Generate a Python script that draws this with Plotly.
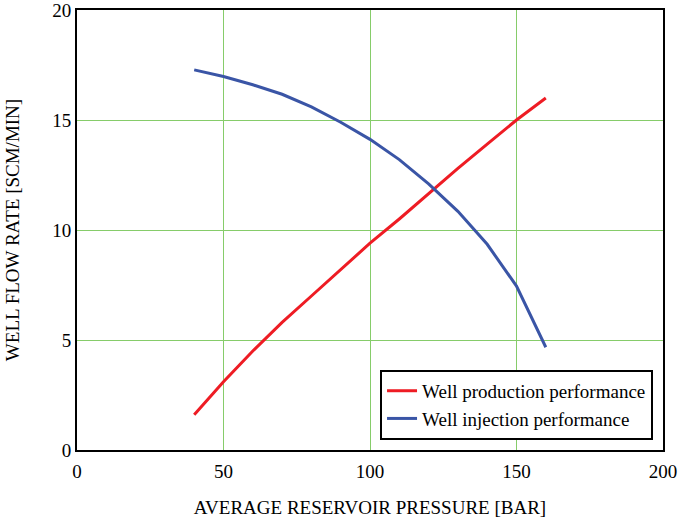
import plotly.graph_objects as go

pressure = [40, 50, 60, 70, 80, 90, 100, 110, 120, 130, 140, 150, 160]
production = [1.6, 3.1, 4.5, 5.8, 7.0, 8.2, 9.4, 10.5, 11.65, 12.8, 13.9, 15.0, 16.0]
injection = [17.28, 16.98, 16.6, 16.17, 15.6, 14.9, 14.12, 13.2, 12.1, 10.85, 9.35, 7.45, 4.67]
x_ticks = [0, 50, 100, 150, 200]
y_ticks = [0, 5, 10, 15, 20]

font_family = "Liberation Serif, Times New Roman, serif"

fig = go.Figure()
fig.add_trace(go.Scatter(x=pressure, y=production, mode="lines",
                         name="Well production performance",
                         line=dict(color="#ee1c24", width=3)))
fig.add_trace(go.Scatter(x=pressure, y=injection, mode="lines",
                         name="Well injection performance",
                         line=dict(color="#3a55a6", width=3)))

title_font = dict(family=font_family, size=19, color="black")
tick_font = dict(family=font_family, size=19, color="black")

fig.update_layout(
    width=682, height=521,
    margin=dict(l=77, r=19, t=10, b=71, autoexpand=False),
    paper_bgcolor="white", plot_bgcolor="white",
    font=dict(family=font_family, size=19, color="black"),
    legend=dict(x=0.983, y=0.023, xanchor="right", yanchor="bottom",
                bordercolor="black", borderwidth=2, bgcolor="white",
                font=dict(family=font_family, size=19, color="black"),
                tracegroupgap=0, itemwidth=30),
    showlegend=True,
)
fig.update_xaxes(range=[0, 200], tickvals=x_ticks, ticktext=[str(v) for v in x_ticks],
                 tickfont=tick_font, automargin=False, ticklabeloverflow="allow",
                 showgrid=True, gridcolor="#86cc6a", gridwidth=1,
                 showline=True, linecolor="black", linewidth=2, mirror=True,
                 zeroline=False, ticks="", ticklabelstandoff=3,
                 title=dict(text="AVERAGE RESERVOIR PRESSURE [BAR]", standoff=20, font=title_font))
fig.update_yaxes(range=[0, 20], tickvals=y_ticks, ticktext=[str(v) for v in y_ticks],
                 tickfont=tick_font, automargin=False, ticklabeloverflow="allow",
                 showgrid=True, gridcolor="#86cc6a", gridwidth=1,
                 showline=True, linecolor="black", linewidth=2, mirror=True,
                 zeroline=False, ticks="", ticklabelstandoff=0,
                 title=dict(text="WELL FLOW RATE [SCM/MIN]", standoff=28, font=title_font))

fig.write_html("out.html")
